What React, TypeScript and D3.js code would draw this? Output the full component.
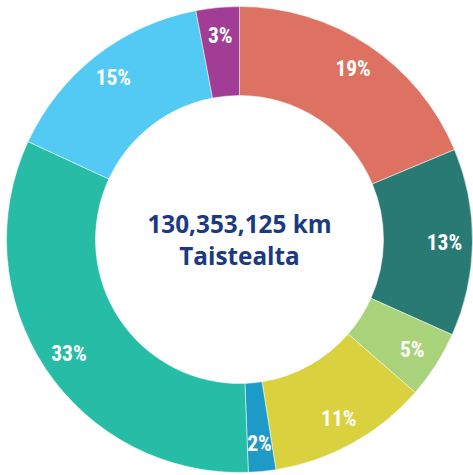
import React from "react";
import * as d3 from "d3";

const categories = ["A", "B", "C", "D", "E", "F", "G", "H"];
const values = [18.7, 13.0, 4.7, 11.1, 1.9, 32.5, 15.1, 3.0];
const labels = ["19%", "13%", "5%", "11%", "2%", "33%", "15%", "3%"];
const colors = ["#DE7262", "#2A7A74", "#A8D37B", "#DAD13F", "#1E9AC8", "#26BCA5", "#52CAF4", "#A13D94"];
const centerLines = ["130,353,125 km", "Taistealta"];

const W = 473;
const H = 475;
const cx = 239.5;
const cy = 239.5;
const outerR = 233;
const innerR = 144;
const labelR = 205;

export default function App() {
  const pie = d3.pie<number>().sort(null).value((d) => d)(values);
  const arc = d3.arc<d3.PieArcDatum<number>>().innerRadius(innerR).outerRadius(outerR);
  const labelArc = d3.arc<d3.PieArcDatum<number>>().innerRadius(labelR).outerRadius(labelR);
  return (
    <svg width={W} height={H} style={{ position: "absolute", left: 0, top: 0 }}>
      <rect width={W} height={H} fill="#ffffff" />
      <g transform={`translate(${cx},${cy})`}>
        {pie.map((p, i) => (
          <path key={categories[i]} d={arc(p) || ""} fill={colors[i]} stroke="#ffffff" strokeWidth={0.5} />
        ))}
        {pie.map((p, i) => {
          const [x, y] = labelArc.centroid(p);
          return (
            <text
              key={"l" + categories[i]}
              x={x}
              y={y}
              textAnchor="middle"
              dominantBaseline="central"
              fill="#ffffff"
              fontFamily="'Liberation Sans Narrow', 'Roboto Condensed', sans-serif"
              fontWeight={700}
              fontSize={21.5}
            >
              {labels[i]}
            </text>
          );
        })}
        <text
          x={0}
          y={-7}
          textAnchor="middle"
          fill="#1B3A80"
          fontFamily="'Open Sans', sans-serif"
          fontWeight={700}
          fontSize={24.3}
        >
          {centerLines[0]}
        </text>
        <text
          x={0}
          y={25}
          textAnchor="middle"
          fill="#1B3A80"
          fontFamily="'Open Sans', sans-serif"
          fontWeight={700}
          fontSize={24.3}
        >
          {centerLines[1]}
        </text>
      </g>
    </svg>
  );
}
